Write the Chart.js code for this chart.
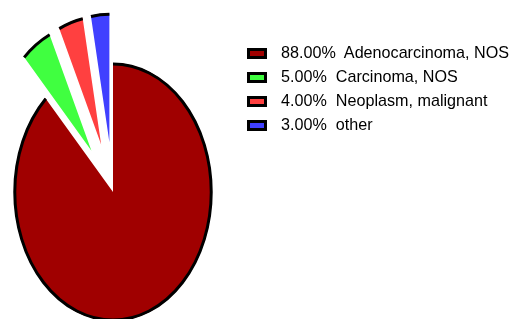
<!DOCTYPE html>
<html>
<head>
<meta charset="utf-8">
<script src="https://cdn.jsdelivr.net/npm/chart.js@4/dist/chart.umd.min.js"></script>
<style>
  html, body { margin: 0; padding: 0; background: #fff; }
  #wrap { position: relative; width: 523px; height: 319px; overflow: hidden; }
  #legend { position: absolute; left: 247px; top: 41px; margin: 0; padding: 0; list-style: none;
    font-family: "Liberation Sans", Arial, sans-serif; font-size: 17px; color: #000; }
  #legend li { height: 24px; display: flex; align-items: center; white-space: pre; }
  #legend .box { width: 14px; height: 5px; border: 3px solid #000; margin-right: 14px; }
  #legend .txt { display: inline-block; transform: scaleX(0.95); transform-origin: left center; }
</style>
</head>
<body>
<div id="wrap">
  <canvas id="pieChart"></canvas>
  <ul id="legend"></ul>
</div>
<script>
const labels = ["Adenocarcinoma, NOS", "Carcinoma, NOS", "Neoplasm, malignant", "other"];
const percents = [88, 5, 4, 3];
const colors = ["#a00000", "#40ff40", "#ff4040", "#4040ff"];
const explode = [0, 50, 50, 50];

// squash the round pie into the tall ellipse of the original
const squashX = 99 / 129;

function withPieTransform(ctx, arc, i) {
  const mid = (arc.startAngle + arc.endAngle) / 2;
  ctx.translate(arc.x, arc.y);
  ctx.scale(squashX, 1);
  ctx.translate(-arc.x, -arc.y);
  ctx.translate(Math.cos(mid) * explode[i], Math.sin(mid) * explode[i]);
}

const ellipsePie = {
  id: "ellipsePie",
  beforeDatasetsDraw(chart) {
    const ctx = chart.ctx;
    const arcs = chart.getDatasetMeta(0).data;
    arcs.forEach((arc, i) => {
      ctx.save();
      withPieTransform(ctx, arc, i);
      arc.draw(ctx);
      ctx.beginPath();
      ctx.arc(arc.x, arc.y, arc.outerRadius - 1, arc.startAngle, arc.endAngle);
      ctx.restore();
      ctx.lineWidth = 3;
      ctx.strokeStyle = "#000";
      ctx.stroke();
    });
    return false;
  }
};

const ctx = document.getElementById("pieChart");

const chart = new Chart(ctx, {
  type: "pie",
  data: {
    labels: labels,
    datasets: [
      {
        data: percents,
        backgroundColor: colors,
        borderWidth: 0
      }
    ]
  },
  options: {
    responsive: true,
    maintainAspectRatio: false,
    animation: false,
    radius: 129,
    layout: {
      padding: { top: 65, right: 297 }
    },
    plugins: {
      legend: { display: false },
      tooltip: { enabled: false }
    }
  },
  plugins: [ellipsePie]
});

const legend = document.getElementById("legend");
labels.forEach((label, i) => {
  const li = document.createElement("li");
  const box = document.createElement("span");
  box.className = "box";
  box.style.background = colors[i];
  const txt = document.createElement("span");
  txt.className = "txt";
  txt.textContent = percents[i].toFixed(2) + "%  " + label;
  li.appendChild(box);
  li.appendChild(txt);
  legend.appendChild(li);
});
</script>
</body>
</html>
